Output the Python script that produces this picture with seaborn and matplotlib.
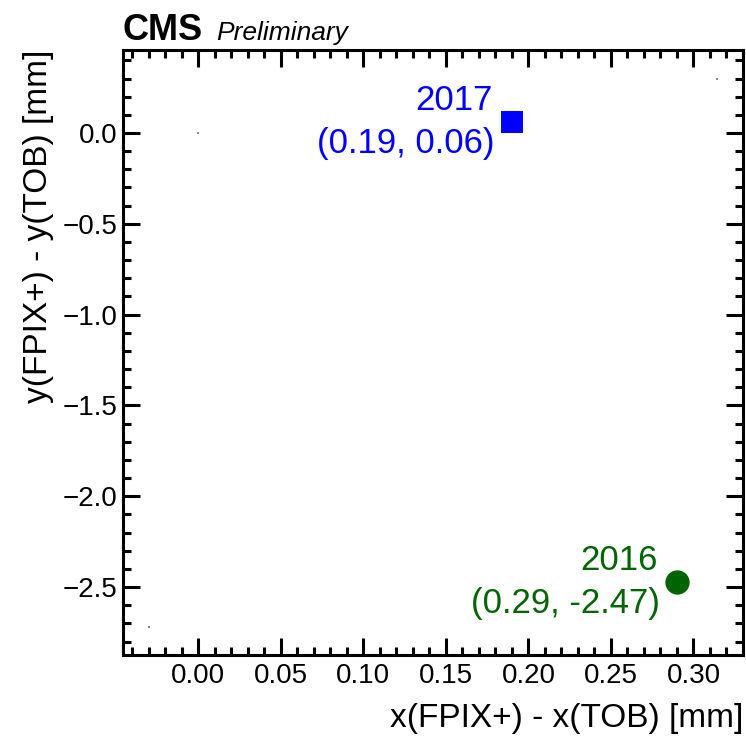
import matplotlib
matplotlib.use("Agg")
import matplotlib.pyplot as plt
from matplotlib.ticker import MultipleLocator, FuncFormatter
import seaborn as sns
import pandas as pd

# Relative FPIX+ / TOB offsets per data-taking year (mm)
years = ["2017", "2016"]
dx = [0.19, 0.29]
dy = [0.06, -2.47]
colors = ["#0000ff", "#006400"]
markers = ["s", "o"]

# Range anchor points of the graph (drawn as tiny dots)
anchor_x = [0.0, -0.03, 0.314]
anchor_y = [0.0, -2.72, 0.30]

x_range = (-0.0456, 0.330)
y_range = (-2.874, 0.457)

df = pd.DataFrame({"year": years, "dx": dx, "dy": dy})
anchors = pd.DataFrame({"x": anchor_x, "y": anchor_y})

sns.set_theme(style="ticks")
plt.rcParams["font.family"] = ["Liberation Sans", "DejaVu Sans"]
plt.rcParams.update({
    "text.color": "black",
    "axes.labelcolor": "black",
    "xtick.color": "black",
    "ytick.color": "black",
    "xtick.labelcolor": "black",
    "ytick.labelcolor": "black",
})

fig = plt.figure(figsize=(7.46, 7.41), dpi=100)
ax = fig.add_axes([123 / 746, 1 - 655 / 741, 620 / 746, 605 / 741])

sns.scatterplot(data=anchors, x="x", y="y", ax=ax, color="#888888",
                s=2, marker="s", linewidth=0, legend=False)

for yr, c, m in zip(years, colors, markers):
    sub = df[df["year"] == yr]
    sns.scatterplot(data=sub, x="dx", y="dy", ax=ax, color=c, marker=m,
                    s=(16.5 if m == "s" else 17.5) ** 2, linewidth=0,
                    legend=False, zorder=5)
    px, py = float(sub["dx"].iloc[0]), float(sub["dy"].iloc[0])
    ax.annotate(yr, (px, py), xytext=(-19, 12), textcoords="offset pixels",
                ha="right", va="baseline", color=c, fontsize=25)
    ax.annotate(f"({px:.2f}, {py:.2f})", (px, py), xytext=(-17, -31),
                textcoords="offset pixels", ha="right", va="baseline",
                color=c, fontsize=25)

ax.set_xlim(*x_range)
ax.set_ylim(*y_range)


def tick_fmt(decimals):
    return FuncFormatter(lambda v, _: f"{v:.{decimals}f}".replace("-", "\u2212"))


ax.xaxis.set_major_locator(MultipleLocator(0.05))
ax.xaxis.set_minor_locator(MultipleLocator(0.01))
ax.yaxis.set_major_locator(MultipleLocator(0.5))
ax.yaxis.set_minor_locator(MultipleLocator(0.1))
ax.xaxis.set_major_formatter(tick_fmt(2))
ax.yaxis.set_major_formatter(tick_fmt(1))

for side in ["top", "right", "bottom", "left"]:
    ax.spines[side].set_visible(True)
    ax.spines[side].set_linewidth(2.2)
    ax.spines[side].set_color("black")

ax.tick_params(which="both", direction="in", top=True, right=True,
               width=2.2, color="black", labelcolor="black")
ax.tick_params(which="major", length=12.5)
ax.tick_params(which="minor", length=6)
ax.tick_params(axis="x", which="major", labelsize=20, pad=6)
ax.tick_params(axis="y", which="major", labelsize=20, pad=4)

ax.set_xlabel("x(FPIX+) - x(TOB) [mm]", fontsize=24, loc="right",
              labelpad=10, color="black")
ax.set_ylabel("y(FPIX+) - y(TOB) [mm]", fontsize=24, loc="top",
              labelpad=6, color="black")

fig.text(123 / 746, 1 - 40 / 741, "CMS", fontsize=26, fontweight="bold",
         ha="left", va="baseline", color="black")
fig.text(216 / 746, 1 - 40 / 741, "Preliminary", fontsize=19,
         fontstyle="italic", ha="left", va="baseline", color="black")

fig.savefig("out.png", dpi=100)
